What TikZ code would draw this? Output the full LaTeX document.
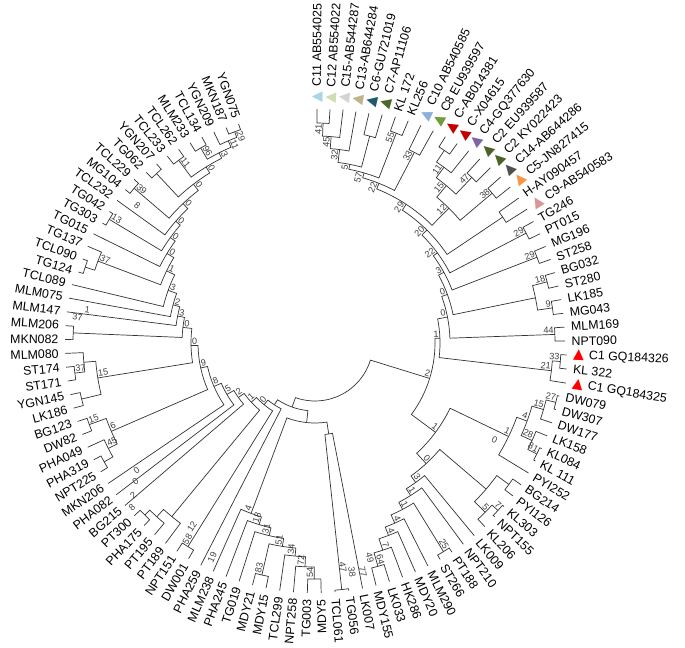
\documentclass[tikz,border=0pt]{standalone}
\usepackage{fontspec}
\setmainfont{Liberation Sans}
\newfontfamily\trifont{DejaVu Sans}

\definecolor{tC11}{RGB}{168,214,230}
\definecolor{tC12}{RGB}{205,222,180}
\definecolor{tC15}{RGB}{212,212,212}
\definecolor{tC13}{RGB}{190,180,140}
\definecolor{tC6}{RGB}{30,90,105}
\definecolor{tC7}{RGB}{75,105,40}
\definecolor{tC10}{RGB}{140,175,220}
\definecolor{tC8}{RGB}{115,155,60}
\definecolor{tCred}{RGB}{195,0,0}
\definecolor{tC4}{RGB}{128,100,165}
\definecolor{tC2}{RGB}{78,98,40}
\definecolor{tC14}{RGB}{80,80,80}
\definecolor{tC5}{RGB}{247,150,70}
\definecolor{tC9}{RGB}{218,150,148}
\definecolor{tC1}{RGB}{255,0,0}

\def\pxs{0.7113}
\newcommand\tri[1]{{\trifont\fontsize{10}{10}\selectfont\textcolor{#1}{▲}}\hspace{3.5pt}}

\tikzset{
  branch/.style={line width=0.5pt, draw=black!80},
  leaflabel/.style={font=\fontsize{8.8}{10}\selectfont, inner sep=0pt, inner xsep=4.5pt},
  bootlabel/.style={font=\fontsize{6.5}{7}\selectfont, inner sep=0.6pt, text=black!75}
}

\newcommand\leaf[4]{%
  \pgfmathsetmacro\lfAng{89.5-3.18*(#2-1)}%
  \pgfmathsetmacro\lfRad{#3*\pxs}%
  \expandafter\xdef\csname ang@#1\endcsname{\lfAng}%
  \coordinate (#1) at (\lfAng:\lfRad pt);%
  \pgfmathtruncatemacro\lfSide{\lfAng>-87}%
  \ifnum\lfSide=1
    \node[leaflabel, anchor=west, rotate=\lfAng] (#1-t) at (#1) {#4};%
  \else
    \pgfmathsetmacro\lfRot{\lfAng+180}%
    \node[leaflabel, anchor=east, rotate=\lfRot] (#1-t) at (#1) {#4};%
  \fi}

\newcommand\clade[5]{%
  \edef\cdA{\csname ang@#3\endcsname}%
  \edef\cdB{\csname ang@#4\endcsname}%
  \pgfmathsetmacro\cdAng{(\cdA+\cdB)/2}%
  \pgfmathsetmacro\cdRad{#2*\pxs}%
  \expandafter\xdef\csname ang@#1\endcsname{\cdAng}%
  \coordinate (#1) at (\cdAng:\cdRad pt);%
  \coordinate (#1-a) at (\cdA:\cdRad pt);%
  \draw[branch] (#3) -- (#1-a) arc[start angle=\cdA, end angle=\cdB, radius=\cdRad pt] -- (#4);%
  \if\relax\detokenize{#5}\relax\else
    \pgfmathtruncatemacro\cdSide{\cdAng>-87}%
    \ifnum\cdSide=1
      \node[bootlabel, anchor=south east, rotate=\cdAng] at (#1) {#5};%
    \else
      \pgfmathsetmacro\cdRot{\cdAng+180}%
      \node[bootlabel, anchor=south west, rotate=\cdRot] at (#1) {#5};%
    \fi
  \fi}

\newcommand\freelab[3]{%
  \pgfmathsetmacro\fRad{#2*\pxs}%
  \pgfmathtruncatemacro\fSide{#1>-87}%
  \ifnum\fSide=1
    \node[bootlabel, rotate=#1] at (#1:\fRad pt) {#3};%
  \else
    \pgfmathsetmacro\fRot{#1+180}%
    \node[bootlabel, rotate=\fRot] at (#1:\fRad pt) {#3};%
  \fi}

\begin{document}
\begin{tikzpicture}
\useasboundingbox (-224.06pt,-216.24pt) rectangle (263.18pt,243.98pt);

\foreach \id/\i/\r/\t in {
 C11/1/234/{\tri{tC11}C11 AB554025}, C12/2/234/{\tri{tC12}C12 AB554022},
 C15/3/235/{\tri{tC15}C15-AB544287}, C13/4/235/{\tri{tC13}C13-AB644284},
 C6/5/236/{\tri{tC6}C6-GU721019}, C7/6/238/{\tri{tC7}C7-AP11106},
 KL172/7/240/{KL 172}, KL256/8/241/{KL256},
 C10/9/242/{\tri{tC10}C10 AB540585}, C8/10/243/{\tri{tC8}C8 EU939597},
 CAB/11/244/{\tri{tCred}C-AB014381}, CX/12/245/{\tri{tCred}C-X04615},
 C4/13/246/{\tri{tC4}C4-GQ377630}, C2EU/14/247/{\tri{tC2}C2 EU939587},
 C2KY/15/248/{\tri{tC2}C2 KY022423}, C14/16/249/{\tri{tC14}C14-AB644286},
 C5/17/250/{\tri{tC5}C5-JN827415}, HAY/18/250/{H-AY090457},
 C9/19/251/{\tri{tC9}C9-AB540583}}
 {\leaf{\id}{\i}{\r}{\t}}

\foreach \id/\i/\r/\t in {
 TG246/20/250/TG246, PT015/21/250/PT015, MG196/22/250/MG196, ST258/23/250/ST258,
 BG032/24/250/BG032, ST280/25/250/ST280, LK185/26/250/LK185, MG043/27/250/MG043,
 MLM169/28/250/MLM169, NPT090/29/250/NPT090,
 C1a/30/252/{\tri{tC1}C1 GQ184326}, KL322/31/253/{KL 322}, C1b/32/254/{\tri{tC1}C1 GQ184325},
 DW079/33/250/DW079, DW307/34/250/DW307, DW177/35/250/DW177, LK158/36/250/LK158,
 KL084/37/250/KL084, KL111/38/250/{KL 111}, PYI252/39/250/PYI252, BG214/40/250/BG214,
 PYI126/41/250/PYI126, KL303/42/250/KL303, NPT155/43/250/NPT155, KL206/44/250/KL206,
 LK009/45/250/LK009, NPT210/46/250/NPT210, PT188/47/250/PT188, ST266/48/250/ST266,
 MLM290/49/250/MLM290, MDY20/50/250/MDY20, HK286/51/250/HK286, LK033/52/250/LK033,
 MDY155/53/250/MDY155}
 {\leaf{\id}{\i}{\r}{\t}}

\foreach \id/\i/\r in {
 LK007/54/250, TG056/55/250, TCL061/56/250, MDY5/57/250, TG003/58/250, NPT258/59/250,
 TCL299/60/250, MDY15/61/250, MDY21/62/250, TG019/63/250, PHA245/64/250, MLM238/65/250,
 PHA259/66/250, DW001/67/250, NPT151/68/250, PT189/69/250, PT195/70/250, PHA175/71/250,
 PT300/72/250, BG215/73/250, PHA082/74/250, MKN206/75/250, NPT225/76/250, PHA319/77/250,
 PHA049/78/250, DW82/79/250, BG123/80/250, LK186/81/250, YGN145/82/250, ST171/83/250,
 ST174/84/250, MLM080/85/250, MKN082/86/250, MLM206/87/250, MLM147/88/250, MLM075/89/250,
 TCL089/90/250, TG124/91/247, TCL090/92/247, TG137/93/247, TG015/94/247, TG303/95/244,
 TG042/96/244, TCL232/97/244, MG104/98/244, TCL229/99/244, TG062/100/240, YGN207/101/239,
 TCL233/102/238, TCL262/103/237, MLM233/104/236, TCL134/105/235, YGN209/106/234,
 MKN187/107/233, YGN075/108/232}
 {\leaf{\id}{\i}{\r}{\id}}

\clade{tc1}{220}{C11}{C12}{41}
\clade{tc2}{207}{tc1}{C15}{45}
\clade{tc3}{195}{tc2}{C13}{32}
\clade{tc4}{214}{C6}{C7}{}
\clade{tc5}{182}{tc3}{tc4}{5}
\clade{kl}{225}{KL172}{KL256}{55}
\clade{tc6}{177}{tc5}{kl}{57}
\clade{cc}{215}{C10}{C8}{33}
\clade{tc7}{172}{tc6}{cc}{22}
\clade{cg1}{232}{CAB}{CX}{}
\clade{cg2}{218}{cg1}{C4}{11}
\clade{cg3}{228}{C2EU}{C2KY}{47}
\clade{cg4}{205}{cg2}{cg3}{15}
\clade{cg5}{232}{C14}{C5}{38}
\clade{cg6}{190}{cg4}{cg5}{12}
\clade{at6}{166}{tc7}{cg6}{29}
\clade{hc}{226}{HAY}{C9}{}
\clade{at5}{159}{at6}{hc}{20}
\clade{tp}{238}{TG246}{PT015}{29}
\clade{at4}{152}{at5}{tp}{22}
\clade{ms}{238}{MG196}{ST258}{29}
\clade{at3}{147}{at4}{ms}{3}
\clade{bs}{240}{BG032}{ST280}{18}
\clade{lm}{240}{LK185}{MG043}{9}
\clade{q4}{225}{bs}{lm}{}
\clade{at2}{141}{at3}{q4}{0}
\clade{mn}{240}{MLM169}{NPT090}{44}
\clade{at1}{135}{at2}{mn}{0}
\clade{c1p}{246}{C1a}{KL322}{33}
\clade{c1}{238}{c1p}{C1b}{21}
\clade{atn}{125}{at1}{c1}{1}

\clade{dw1}{248}{DW079}{DW307}{27}
\clade{dw2}{238}{dw1}{DW177}{15}
\clade{kk}{248}{KL084}{KL111}{81}
\clade{lk}{238}{LK158}{kk}{28}
\clade{dw3}{226}{dw2}{lk}{4}
\clade{dw4}{215}{dw3}{PYI252}{1}
\clade{bp}{240}{BG214}{PYI126}{}
\clade{kn}{248}{KL303}{NPT155}{7}
\clade{kn2}{240}{kn}{KL206}{5}
\clade{g40}{225}{bp}{kn2}{}
\clade{ps}{245}{PT188}{ST266}{25}
\clade{lq}{232}{LK033}{MDY155}{64}
\clade{l6}{218}{HK286}{lq}{7}
\clade{l5}{206}{MDY20}{l6}{4}
\clade{l4}{197}{MLM290}{l5}{4}
\clade{l3}{188}{ps}{l4}{1}
\clade{l2}{180}{NPT210}{l3}{1}
\clade{l1}{172}{LK009}{l2}{3}
\clade{lg}{164}{g40}{l1}{0}
\clade{br}{150}{dw4}{lg}{1}
\clade{A}{120}{atn}{br}{2}

\clade{tt}{248}{TG056}{TCL061}{}
\clade{qq}{92}{LK007}{tt}{}
\clade{m5}{236}{MDY5}{TG003}{54}
\clade{m4}{224}{m5}{NPT258}{72}
\clade{m3}{214}{m4}{TCL299}{34}
\clade{md}{238}{MDY15}{MDY21}{83}
\clade{m2}{206}{m3}{md}{51}
\clade{m1}{198}{m2}{TG019}{31}
\clade{m0}{190}{m1}{PHA245}{18}
\clade{mm}{182}{m0}{MLM238}{4}
\clade{bq}{80}{qq}{mm}{}

\clade{dn}{240}{DW001}{NPT151}{58}
\clade{pt1}{242}{PHA175}{PT300}{}
\clade{pt2}{235}{PT195}{pt1}{}
\clade{pt3}{225}{PT189}{pt2}{}
\clade{np}{242}{NPT225}{PHA319}{}
\clade{np2}{232}{np}{PHA049}{45}
\clade{db}{240}{DW82}{BG123}{15}
\clade{s8}{222}{np2}{db}{6}
\clade{ly}{240}{LK186}{YGN145}{}
\clade{ss}{242}{ST171}{ST174}{37}
\clade{sm}{232}{ss}{MLM080}{}
\clade{s9}{220}{ly}{sm}{15}
\clade{mk}{242}{MKN082}{MLM206}{}
\clade{tt2}{242}{TG124}{TCL090}{}
\clade{s14}{232}{tt2}{TG137}{37}
\clade{tg}{240}{TG303}{TG042}{13}
\clade{mt}{238}{MG104}{TCL229}{39}
\clade{p7}{232}{TG062}{YGN207}{}
\clade{p5}{228}{TCL233}{TCL262}{11}
\clade{p3}{226}{MLM233}{TCL134}{96}
\clade{p1}{226}{MKN187}{YGN075}{29}
\clade{p2}{220}{YGN209}{p1}{11}
\clade{p4}{213}{p3}{p2}{3}
\clade{p6}{207}{p5}{p4}{0}
\clade{p8}{200}{p7}{p6}{0}
\clade{k1}{192}{mt}{p8}{0}
\clade{k2}{185}{TCL232}{k1}{0}
\clade{k3}{179}{tg}{k2}{0}
\clade{k4}{173}{TG015}{k3}{0}
\clade{k5}{165}{s14}{k4}{1}
\clade{k6}{156}{TCL089}{k5}{3}
\clade{k7}{147}{MLM075}{k6}{2}
\clade{k8}{140}{MLM147}{k7}{3}
\clade{k9}{133}{mk}{k8}{0}
\clade{k10}{124}{s9}{k9}{0}
\clade{k11}{117}{s8}{k10}{9}
\clade{k12}{110}{MKN206}{k11}{8}
\clade{k13}{102}{PHA082}{k12}{5}
\clade{k14}{94}{BG215}{k13}{2}
\clade{k15}{87}{pt3}{k14}{1}
\clade{k16}{80}{dn}{k15}{0}
\clade{k17}{74}{PHA259}{k16}{}
\clade{B}{68}{bq}{k17}{}
\clade{root}{58}{A}{B}{}

\freelab{-28.3}{204}{0}
\freelab{-75.7}{222}{49}
\freelab{-78.2}{234}{77}
\freelab{-80.8}{232}{38}
\freelab{-82.9}{226}{47}
\freelab{-115.6}{238}{19}
\freelab{-123.8}{221}{12}
\freelab{-144.5}{219}{0}
\freelab{-142.3}{227}{0}
\freelab{-140.1}{237}{2}
\freelab{-138.1}{246}{8}
\freelab{-188.2}{230}{1}
\freelab{-186.2}{239}{37}
\freelab{-217.8}{225}{8}
\end{tikzpicture}
\end{document}
